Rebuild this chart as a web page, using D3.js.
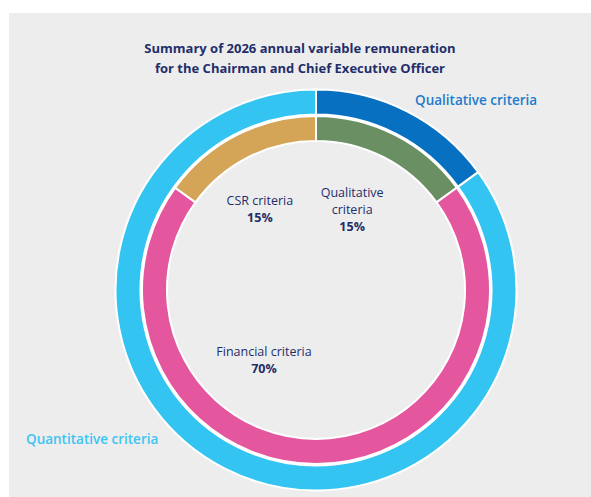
<!DOCTYPE html>
<html>
<head>
<meta charset="utf-8">
<script src="https://cdn.jsdelivr.net/npm/d3@7"></script>
<style>
  body { margin: 0; background: #fff; }
  svg { display: block; }
</style>
</head>
<body>
<div id="chart"></div>
<script>
// outer ring: criteria type
var outerNames = ["Qualitative criteria", "Quantitative criteria"];
var outerValues = [15, 85];
var outerColors = ["#0870C0", "#33C4F2"];

// inner ring: detail
var innerNames = ["Qualitative criteria", "Financial criteria", "CSR criteria"];
var innerShort = [["Qualitative", "criteria"], ["Financial criteria"], ["CSR criteria"]];
var innerValues = [15, 70, 15];
var innerColors = ["#6A8F62", "#E4569E", "#D4A557"];

var titleLines = ["Summary of 2026 annual variable remuneration",
                  "for the Chairman and Chief Executive Officer"];

var width = 591, height = 497;
var cx = 316, cy = 290;

var svg = d3.select("#chart")
            .append("svg")
            .attr("width", width)
            .attr("height", height);

// grey panel
svg.append("rect")
   .attr("x", 9)
   .attr("y", 13)
   .attr("width", width - 9)
   .attr("height", height - 13)
   .style("fill", "#EDEDED");

svg.append("text")
   .attr("x", 300)
   .attr("y", 53)
   .attr("text-anchor", "middle")
   .style("font-family", "'Open Sans', sans-serif")
   .style("font-weight", "bold")
   .style("font-size", "13px")
   .style("fill", "#1F2E6B")
   .selectAll("tspan")
   .data(titleLines)
   .enter()
   .append("tspan")
   .attr("x", 300)
   .attr("dy", function(d, i) { return i == 0 ? 0 : 20; })
   .text(function(d) { return d; });

var pie = d3.pie().sort(null).value(function(d) { return d; });

var g = svg.append("g")
           .attr("transform", "translate(" + cx + "," + cy + ")");

var outerArc = d3.arc().innerRadius(175.5).outerRadius(200.5);
var innerArc = d3.arc().innerRadius(149).outerRadius(174);

g.selectAll(".outer")
 .data(pie(outerValues))
 .enter()
 .append("path")
 .attr("class", "outer")
 .attr("d", outerArc)
 .style("fill", function(d, i) { return outerColors[i]; })
 .style("stroke", "#fff")
 .style("stroke-width", 2);

var innerPie = pie(innerValues);
g.selectAll(".inner")
 .data(innerPie)
 .enter()
 .append("path")
 .attr("class", "inner")
 .attr("d", innerArc)
 .style("fill", function(d, i) { return innerColors[i]; })
 .style("stroke", "#fff")
 .style("stroke-width", 2);

// inner labels, placed inside the hole near their slice
var labelArc = d3.arc().innerRadius(95).outerRadius(95);
var nudge = [[-7, -8], [-52, 66], [-13, 0]];
innerPie.forEach(function(d, i) {
  var c = labelArc.centroid(d);
  var lx, ly;
  if (i == 1) { lx = nudge[i][0]; ly = nudge[i][1]; }   // financial label sits low-left, not at its centroid
  else { lx = c[0] + nudge[i][0]; ly = c[1] + nudge[i][1]; }
  var lines = innerShort[i];
  var t = g.append("text")
           .attr("text-anchor", "middle")
           .style("font-family", "'Open Sans', sans-serif")
           .style("font-size", "12.5px")
           .style("fill", "#1F2E6B");
  lines.forEach(function(s, k) {
    t.append("tspan").attr("x", lx).attr("y", ly + k * 17).text(s);
  });
  t.append("tspan")
   .attr("x", lx)
   .attr("y", ly + lines.length * 17)
   .style("font-weight", "bold")
   .text(innerValues[i] + "%");
});

// outer labels
svg.append("text")
   .attr("x", 415)
   .attr("y", 105)
   .style("font-family", "'Open Sans', sans-serif")
   .style("font-weight", "600")
   .style("font-size", "13.5px")
   .style("fill", "#1F7BCB")
   .text(outerNames[0]);

svg.append("text")
   .attr("x", 26)
   .attr("y", 444)
   .style("font-family", "'Open Sans', sans-serif")
   .style("font-weight", "600")
   .style("font-size", "13.5px")
   .style("fill", "#3CC4F2")
   .text(outerNames[1]);
</script>
</body>
</html>
